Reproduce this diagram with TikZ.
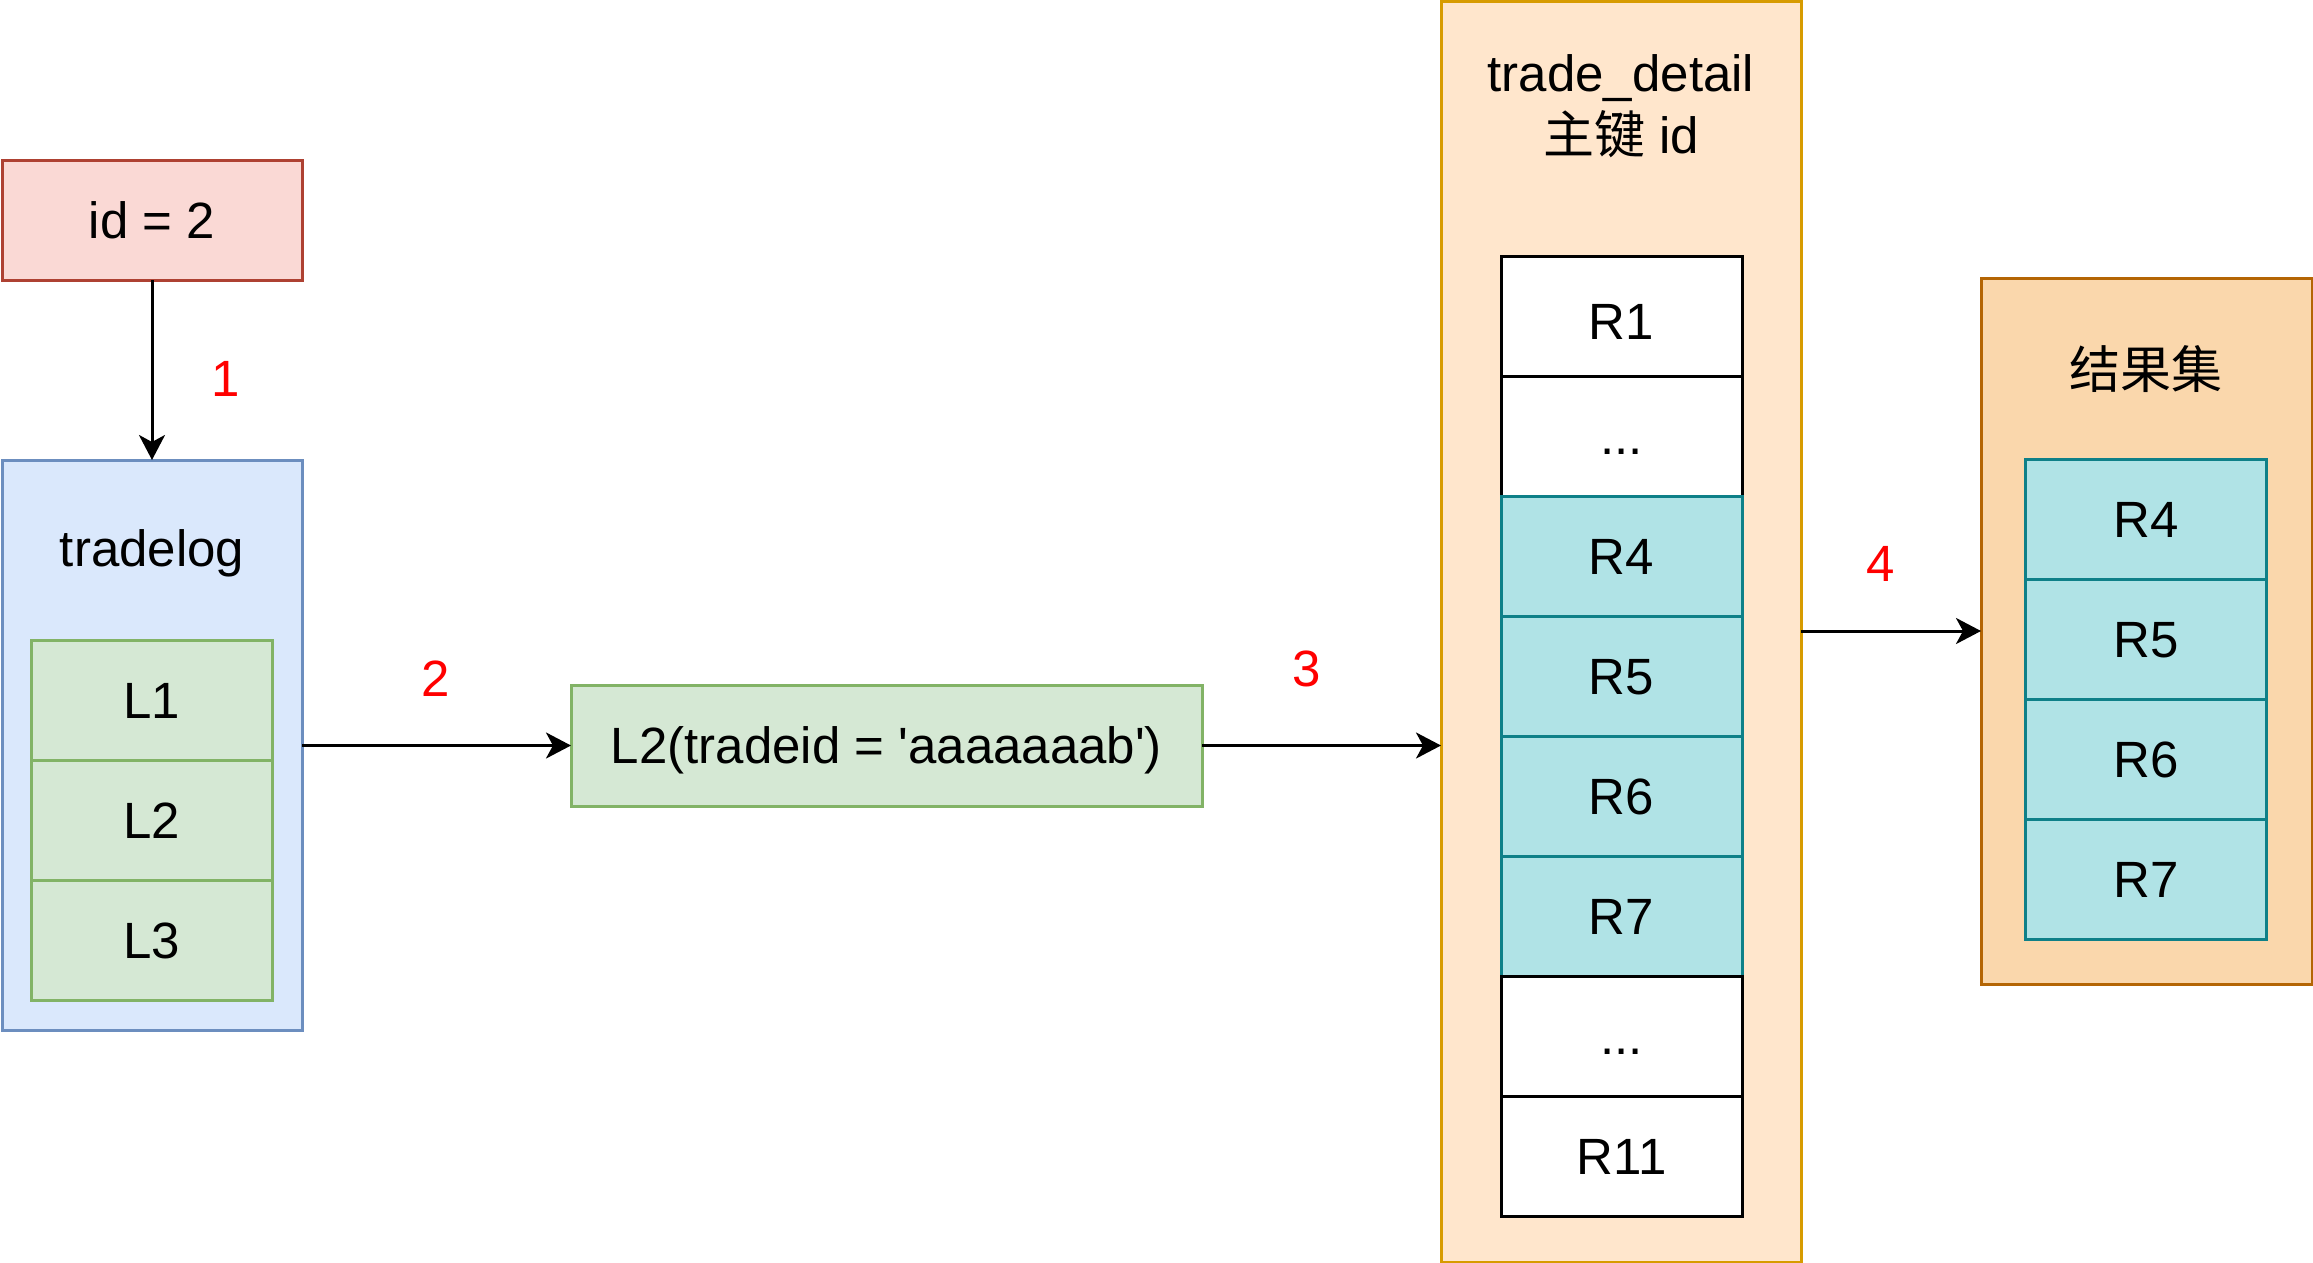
\documentclass[tikz,border=0pt]{standalone}
\usepackage{fontspec}
\newfontfamily\arial{Liberation Sans}
\newfontfamily\cjk{Noto Sans CJK SC}
\usetikzlibrary{arrows.meta}
\definecolor{redfill}{HTML}{FAD9D5}
\definecolor{redline}{HTML}{AE4132}
\definecolor{bluefill}{HTML}{DAE8FC}
\definecolor{blueline}{HTML}{6C8EBF}
\definecolor{greenfill}{HTML}{D5E8D4}
\definecolor{greenline}{HTML}{82B366}
\definecolor{orfill}{HTML}{FFE6CC}
\definecolor{orline}{HTML}{D79B00}
\definecolor{resfill}{HTML}{FAD7AC}
\definecolor{resline}{HTML}{B46504}
\definecolor{tealfill}{HTML}{B0E3E6}
\definecolor{tealline}{HTML}{0E8088}
\begin{document}
\begin{tikzpicture}[x=1pt,y=-1pt,
  txt/.style={font=\arial\fontsize{51}{61}\selectfont},
  box/.style={txt, draw, line width=3pt, inner sep=0pt, outer sep=0pt, text height=36.5pt, text depth=0pt},
  redbox/.style={box, fill=redfill, draw=redline},
  bluebox/.style={box, fill=bluefill, draw=blueline},
  greenbox/.style={box, fill=greenfill, draw=greenline},
  orbox/.style={box, fill=orfill, draw=orline},
  resbox/.style={box, fill=resfill, draw=resline},
  tealrow/.style={box, fill=tealfill, draw=tealline, minimum width=241pt, minimum height=120pt},
  whiterow/.style={box, fill=white, draw=black, minimum width=241pt, minimum height=120pt},
  lrow/.style={greenbox, minimum width=241pt, minimum height=120pt},
  steplabel/.style={txt, text=red, inner sep=0pt, text height=36.5pt, text depth=0pt},
  arr/.style={line width=3pt, -{Stealth[length=25pt,width=26pt,inset=7pt]}}
]
\useasboundingbox (0,0) rectangle (2313,1263);

% id = 2
\node[redbox, minimum width=300pt, minimum height=120pt] (id) at (152,220) {id = 2};

% tradelog
\node[bluebox, minimum width=300pt, minimum height=570pt] (tl) at (152,745) {};
\node[txt, anchor=base, inner sep=0pt] (tltitle) at (152,566) {tradelog};
\node[lrow] (l1) at (152,700) {L1};
\node[lrow] (l2) at (152,820) {L2};
\node[lrow] (l3) at (152,940) {L3};

% L2(tradeid = ...)
\node[greenbox, minimum width=631pt, minimum height=121pt] (q) at (886.5,745.5) {L2(tradeid = 'aaaaaaab')};

% trade_detail
\node[orbox, minimum width=360pt, minimum height=1260pt] (td) at (1621,632) {};
\node[txt, anchor=base, inner sep=0pt] (tdt1) at (1621,92) {trade\_detail};
\node[txt, anchor=base, inner sep=0pt] (tdt2) at (1621,153) {{\cjk 主键} id};
\node[whiterow] (r1) at (1621.5,316) {\raisebox{-5pt}{R1}};
\node[whiterow] (rd1) at (1621.5,436) {...};
\node[tealrow] (r4) at (1621.5,556) {R4};
\node[tealrow] (r5) at (1621.5,676) {R5};
\node[tealrow] (r6) at (1621.5,796) {R6};
\node[tealrow] (r7) at (1621.5,916) {R7};
\node[whiterow] (rd2) at (1621.5,1036) {...};
\node[whiterow] (r11) at (1621.5,1156) {R11};

% result set
\node[resbox, minimum width=331pt, minimum height=706pt] (res) at (2146.5,631) {};
\node[txt, inner sep=0pt] (restitle) at (2146,369) {\cjk 结果集};
\node[tealrow] (s4) at (2146,519) {R4};
\node[tealrow] (s5) at (2146,639) {R5};
\node[tealrow] (s6) at (2146,759) {R6};
\node[tealrow] (s7) at (2146,879) {R7};

% connectors
\draw[arr] (id.south) -- (tl.north);
\draw[arr] (tl.east |- q.west) -- (q.west);
\draw[arr] (q.east) -- (td.west |- q.east);
\coordinate (tdout) at (td.east |- 0,631);
\draw[arr] (tdout) -- (res.west);

% step labels
\node[steplabel] (n1) at (226,378) {1};
\node[steplabel] (n2) at (436,678) {2};
\node[steplabel] (n3) at (1307,668) {3};
\node[steplabel] (n4) at (1881,563) {4};
\end{tikzpicture}
\end{document}
